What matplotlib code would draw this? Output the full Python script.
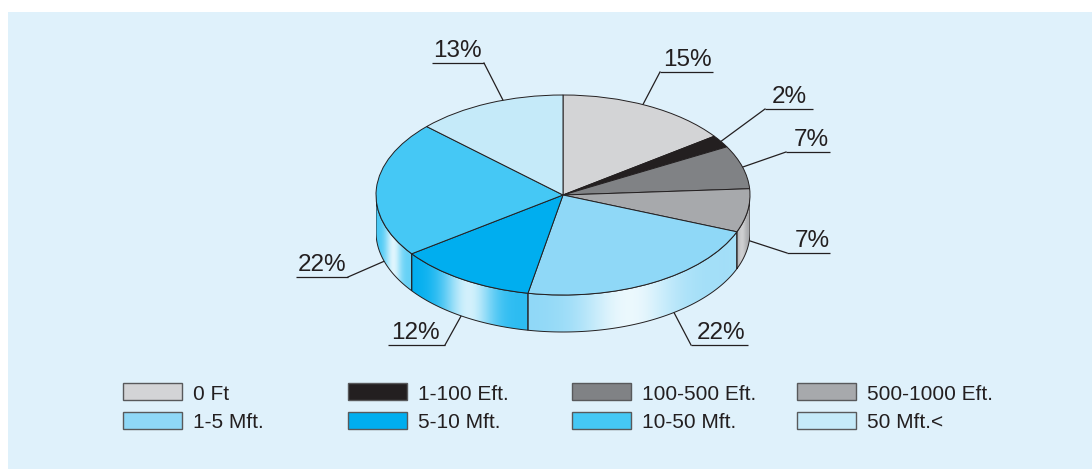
import numpy as np
import matplotlib
matplotlib.use("Agg")
import matplotlib.pyplot as plt
from matplotlib.patches import Rectangle, Polygon
from matplotlib.colors import to_rgb

# ---- data -------------------------------------------------------------
categories = ["0 Ft", "1-100 Eft.", "100-500 Eft.", "500-1000 Eft.",
              "1-5 Mft.", "5-10 Mft.", "10-50 Mft.", "50 Mft.<"]
shares = [15, 2, 7, 7, 22, 12, 22, 13]
colors = ["#d3d4d6", "#231f20", "#808285", "#a7a9ac",
          "#8fd8f7", "#00aeef", "#45c8f5", "#c5eaf9"]

# label layout per slice: text centre x, underline y, underline x0/x1,
# knee x, anchor angle on the rim (deg), rim ("top" or "bottom")
label_text_x = [687, 789, 811, 812, 721, 415, 322, 457]
label_line_y = [72, 109, 152, 253, 345, 345, 277, 63]
label_line_x = [(660, 713), (765, 813), (786, 830), (787, 830),
                (691, 748), (388, 445), (296, 348), (432, 484)]
label_knee_x = [660, 765, 786, 787, 691, 445, 348, 484]
label_angle = [64.7, 32.4, 16.2, -5, -53.6, -123, -163, 108.7]
label_rim = ["top", "top", "top", "bottom", "bottom", "bottom", "bottom", "top"]

W, H = 1092, 469
EDGE = "#231f20"
plt.rcParams["font.family"] = ["Liberation Sans", "DejaVu Sans"]

fig = plt.figure(figsize=(W / 100, H / 100), dpi=100)
fig.patch.set_facecolor("white")

# overlay axes in pixel units (y downward)
ov = fig.add_axes([0, 0, 1, 1])
ov.set_xlim(0, W)
ov.set_ylim(H, 0)
ov.axis("off")
ov.add_patch(Rectangle((8, 12), W - 8, H - 12, facecolor="#dff1fb",
                       edgecolor="none", zorder=0))

# ---- pie (top face squashed into an ellipse) --------------------------
cx, cy, rx, ry, depth = 563, 195, 187, 100, 37
extra = depth + 6  # room below the top face for the side wall
pax = fig.add_axes([(cx - rx) / W, (H - cy - ry - extra) / H,
                    2 * rx / W, (2 * ry + extra) / H])
pax.axis("off")
wedges, _ = pax.pie(shares, colors=colors, startangle=90, counterclock=False,
                    radius=1,
                    wedgeprops=dict(edgecolor=EDGE, linewidth=0.7, zorder=3))

# side wall of the visible front half
d = depth / ry
bounds = 90 - 3.6 * np.concatenate([[0], np.cumsum(shares)])
for i, col in enumerate(colors):
    hi, lo = bounds[i], bounds[i + 1]
    lo_v, hi_v = max(lo, -180), min(hi, 0)
    if lo_v >= hi_v:
        continue
    t = np.radians(np.linspace(hi_v, lo_v, 120))
    xs, ys = np.cos(t), np.sin(t)
    verts = np.vstack([np.column_stack([xs, ys]),
                       np.column_stack([xs[::-1], ys[::-1] - d])])
    poly = Polygon(verts, closed=True, facecolor="none", edgecolor=EDGE,
                   linewidth=0.7, zorder=2)
    pax.add_patch(poly)

    x0, x1 = xs.min(), xs.max()
    y0, y1 = ys.min() - d, ys.max()
    s = np.linspace(0, 1, 200)
    base = np.array(to_rgb(col))
    if base.std() < 0.02:  # grey slice
        w = 0.45 * np.exp(-((s - 0.35) / 0.3) ** 2)
    else:
        w = 0.74 * np.exp(-((s - 0.48) / 0.22) ** 2) + 0.18 * s
    rgb = base[None, :] * (1 - w[:, None]) + w[:, None]
    img = np.repeat(rgb[None, :, :], 2, axis=0)
    im = pax.imshow(img, extent=[x0, x1, y0, y1], aspect="auto",
                    interpolation="bilinear", zorder=1)
    im.set_clip_path(poly)

pax.set_aspect("auto")
pax.set_xlim(-1, 1)
pax.set_ylim(-1 - extra / ry, 1)

# ---- percentage labels with leader lines ------------------------------
for i, v in enumerate(shares):
    a = np.radians(label_angle[i])
    px = cx + rx * np.cos(a)
    py = cy - ry * np.sin(a) + (depth if label_rim[i] == "bottom" else 0)
    lx0, lx1 = label_line_x[i]
    yl = label_line_y[i]
    ov.plot([lx0, lx1], [yl, yl], color=EDGE, lw=0.9, solid_capstyle="butt")
    ov.plot([label_knee_x[i], px], [yl, py], color=EDGE, lw=0.9)
    ov.text(label_text_x[i], yl - 6, f"{v}%", ha="center", va="baseline",
            fontsize=17.5, color=EDGE)

# ---- legend -------------------------------------------------------------
for i, (name, col) in enumerate(zip(categories, colors)):
    row, c = divmod(i, 4)
    bx = 123 + c * 224.7
    by = 383 + row * 29
    ov.add_patch(Rectangle((bx, by), 59, 17, facecolor=col,
                           edgecolor="#58595b", linewidth=1.0))
    ov.text(bx + 70, by + 16.5, name, ha="left", va="baseline",
            fontsize=15, color=EDGE)

fig.savefig("out.png", dpi=100, facecolor=fig.get_facecolor())
